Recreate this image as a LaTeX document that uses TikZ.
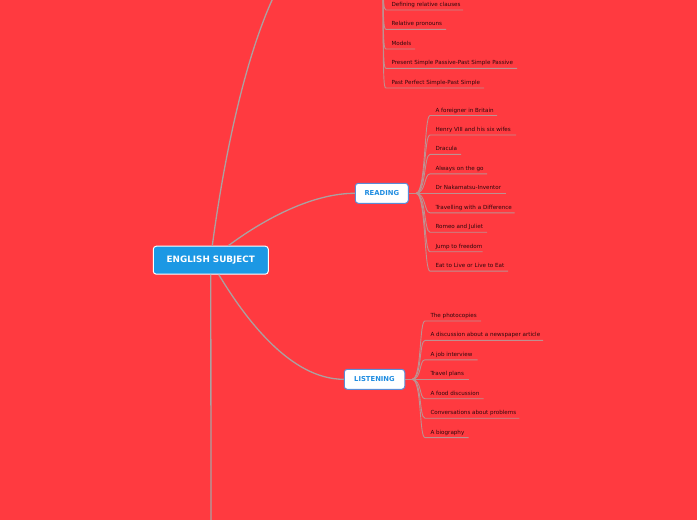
\documentclass[tikz,border=0pt]{standalone}
\usepackage{fontspec}
\newfontfamily\mapfont{DejaVu Sans}
\definecolor{bgred}{RGB}{255,58,64}
\definecolor{rootblue}{RGB}{28,152,228}
\definecolor{topicborder}{RGB}{90,140,215}
\definecolor{topictext}{RGB}{30,140,225}
\definecolor{conncol}{RGB}{172,160,160}
\definecolor{leafline}{RGB}{190,145,145}
\definecolor{leaftext}{RGB}{45,8,12}
\tikzset{
  rootnode/.style={draw=white, line width=1pt, fill=rootblue, rounded corners=3pt,
    text=white, font=\mapfont\bfseries\fontsize{8.8}{10}\selectfont,
    minimum width=115pt, minimum height=28pt, inner sep=0pt},
  topicnode/.style={draw=topicborder, line width=1pt, fill=white, rounded corners=3pt,
    text=topictext, font=\mapfont\bfseries\fontsize{6.8}{8}\selectfont,
    minimum height=20pt, inner sep=0pt},
  leaf/.style={anchor=south west, inner xsep=5.5pt, inner ysep=3.5pt, outer sep=0pt,
    text depth=0pt, text=leaftext, font=\mapfont\fontsize{5.6}{6}\selectfont},
  conn/.style={draw=conncol, line width=1.3pt},
  leafconn/.style={draw=leafline, line width=0.9pt},
}
\newcommand\leafitem[5]{\node[leaf] (#1) at (#2,#3) {#5}; \coordinate (#1e) at (#4,#3);}
\begin{document}
\begin{tikzpicture}[x=1pt,y=-1pt]
\fill[bgred] (0,0) rectangle (697,520);
\clip (0,0) rectangle (697,520);

% main nodes
\node[rootnode] (root) at (210.8,260.2) {ENGLISH SUBJECT};
\node[topicnode, minimum width=53pt] (reading) at (381.8,193.3) {READING};
\node[topicnode, minimum width=60.5pt] (listening) at (374.5,379.3) {LISTENING};

\coordinate (grammar) at (340,-75);
\coordinate (bottomend) at (211,540);

% main connectors
\draw[conn] ([xshift=1.5pt]root.north) .. controls (225,150) and (262,-60) .. (grammar);
\draw[conn] (root.south) -- (bottomend);
\draw[conn] ([xshift=17.5pt]root.north) .. controls (260,222) and (310,193.3) .. (reading.west);
\draw[conn] ([xshift=8pt]root.south) .. controls (245,318) and (290,379.3) .. (listening.west);

% grammar leaves
\coordinate (ghub) at (383,-40);
\leafitem{g1}{386}{10}{463}{Defining relative clauses}
\leafitem{g2}{386}{29.3}{446}{Relative pronouns}
\leafitem{g3}{386}{49}{415}{Models}
\leafitem{g4}{386}{68.3}{517}{Present Simple Passive-Past Simple Passive}
\leafitem{g5}{386}{88}{484}{Past Perfect Simple-Past Simple}
\foreach \n/\y in {g1/10,g2/29.3,g3/49,g4/68.3,g5/88}{
  \draw[leafconn] (ghub) .. controls (383,\y-8) and (383.5,\y) .. (\n.south west) -- (\n e);
}

% reading leaves
\coordinate (rhub) at (416,193.3);
\leafitem{r1}{430}{115.5}{497}{A foreigner in Britain}
\leafitem{r2}{430}{135}{516}{Henry VIII and his six wifes}
\leafitem{r3}{430}{154.4}{461}{Dracula}
\leafitem{r4}{430}{173.9}{487}{Always on the go}
\leafitem{r5}{430}{193.3}{505.7}{Dr Nakamatsu-Inventor}
\leafitem{r6}{430}{212.8}{514.7}{Travelling with a Difference}
\leafitem{r7}{430}{232.2}{487}{Romeo and Juliet}
\leafitem{r8}{430}{251.7}{482.7}{Jump to freedom}
\leafitem{r9}{430}{271.1}{508}{Eat to Live or Live to Eat}
\draw[leafconn] (reading.east) -- (rhub);
\foreach \n in {r1,r2,r3,r4,r5,r6,r7,r8,r9}{
  \draw[leafconn] (rhub) .. controls +(10,0) and +(-6,0) .. (\n.south west) -- (\n e);
}

% listening leaves
\coordinate (lhub) at (412,379.3);
\leafitem{l1}{425}{321}{481}{The photocopies}
\leafitem{l2}{425}{340.4}{543}{A discussion about a newspaper article}
\leafitem{l3}{425}{359.8}{477.7}{A job interview}
\leafitem{l4}{425}{379.3}{468.7}{Travel plans}
\leafitem{l5}{425}{398.7}{483.7}{A food discussion}
\leafitem{l6}{425}{418.2}{519.3}{Conversations about problems}
\leafitem{l7}{425}{437.6}{468.7}{A biography}
\draw[leafconn] (listening.east) -- (lhub);
\foreach \n in {l1,l2,l3,l4,l5,l6,l7}{
  \draw[leafconn] (lhub) .. controls +(10,0) and +(-6,0) .. (\n.south west) -- (\n e);
}
\end{tikzpicture}
\end{document}
